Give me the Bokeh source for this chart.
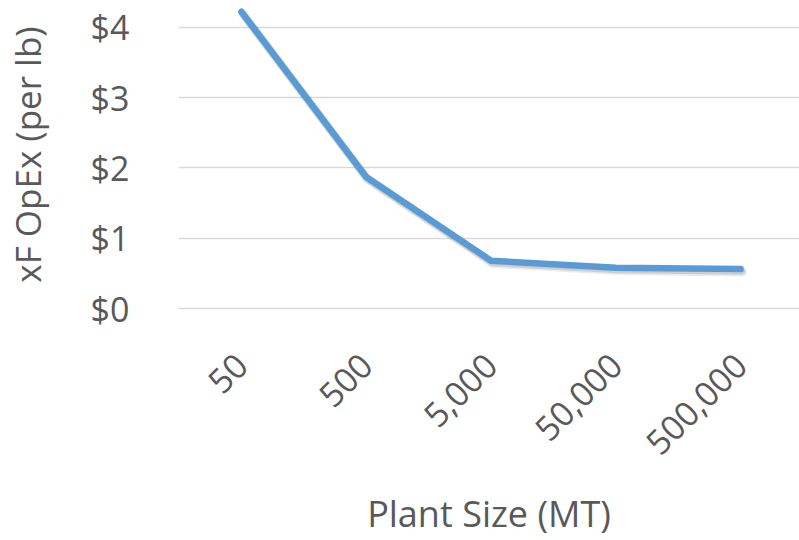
from bokeh.plotting import figure
from bokeh.models import FixedTicker, Range1d
from bokeh.embed import file_html
from bokeh.resources import INLINE
import math

categories = ["50", "500", "5,000", "50,000", "500,000"]
opex = [4.22, 1.87, 0.68, 0.58, 0.56]
y_ticks = [0, 1, 2, 3, 4]
y_labels = ["$0", "$1", "$2", "$3", "$4"]

xs = list(range(len(categories)))

FONT = "Open Sans"
GREY = "#595959"

p = figure(width=799, height=540, output_backend="svg", toolbar_location=None,
           x_range=Range1d(-0.504, 4.472), y_range=Range1d(0, 4.38))
p.min_border_left = 177
p.min_border_right = 0
p.min_border_top = 0
p.min_border_bottom = 230
p.outline_line_color = None
p.background_fill_color = "white"
p.border_fill_color = "white"

# soft shadow under the series line
p.line([x + 0.016 for x in xs], [v - 0.04 for v in opex], line_width=9, line_color="#000000",
       line_alpha=0.08, line_join="round", line_cap="round")
p.line([x + 0.01 for x in xs], [v - 0.03 for v in opex], line_width=7, line_color="#000000",
       line_alpha=0.12, line_join="round", line_cap="round")
p.line(xs, opex, line_width=6.5, line_color="#5B9BD5", line_join="round", line_cap="round")

p.xgrid.grid_line_color = None
p.ygrid.grid_line_color = "#D9D9D9"
p.ygrid.grid_line_width = 1.3
p.ygrid.ticker = FixedTicker(ticks=y_ticks)

p.yaxis.ticker = FixedTicker(ticks=y_ticks)
p.yaxis.major_label_overrides = {t: l for t, l in zip(y_ticks, y_labels)}
p.yaxis.axis_line_color = None
p.yaxis.major_tick_line_color = None
p.yaxis.minor_tick_line_color = None
p.yaxis.major_label_text_font = FONT
p.yaxis.major_label_text_font_size = "34px"
p.yaxis.major_label_text_color = GREY
p.yaxis.major_label_standoff = 43
p.yaxis.axis_label = "xF OpEx (per lb)"
p.yaxis.axis_label_text_font = FONT
p.yaxis.axis_label_text_font_size = "35px"
p.yaxis.axis_label_text_font_style = "normal"
p.yaxis.axis_label_text_color = GREY
p.yaxis.axis_label_standoff = 37

p.xaxis.ticker = FixedTicker(ticks=xs)
p.xaxis.major_label_overrides = {x: c for x, c in zip(xs, categories)}
p.xaxis.major_label_orientation = math.pi / 4
p.xaxis.axis_line_color = "#D9D9D9"
p.xaxis.axis_line_width = 1.3
p.xaxis.major_tick_line_color = None
p.xaxis.minor_tick_line_color = None
p.xaxis.major_label_text_font = FONT
p.xaxis.major_label_text_font_size = "34px"
p.xaxis.major_label_text_color = GREY
p.xaxis.major_label_standoff = 45
p.xaxis.axis_label = "Plant Size (MT)"
p.xaxis.axis_label_text_font = FONT
p.xaxis.axis_label_text_font_size = "36px"
p.xaxis.axis_label_text_font_style = "normal"
p.xaxis.axis_label_text_color = GREY
p.xaxis.axis_label_standoff = 20

open("out.html", "w").write(file_html(p, INLINE))
